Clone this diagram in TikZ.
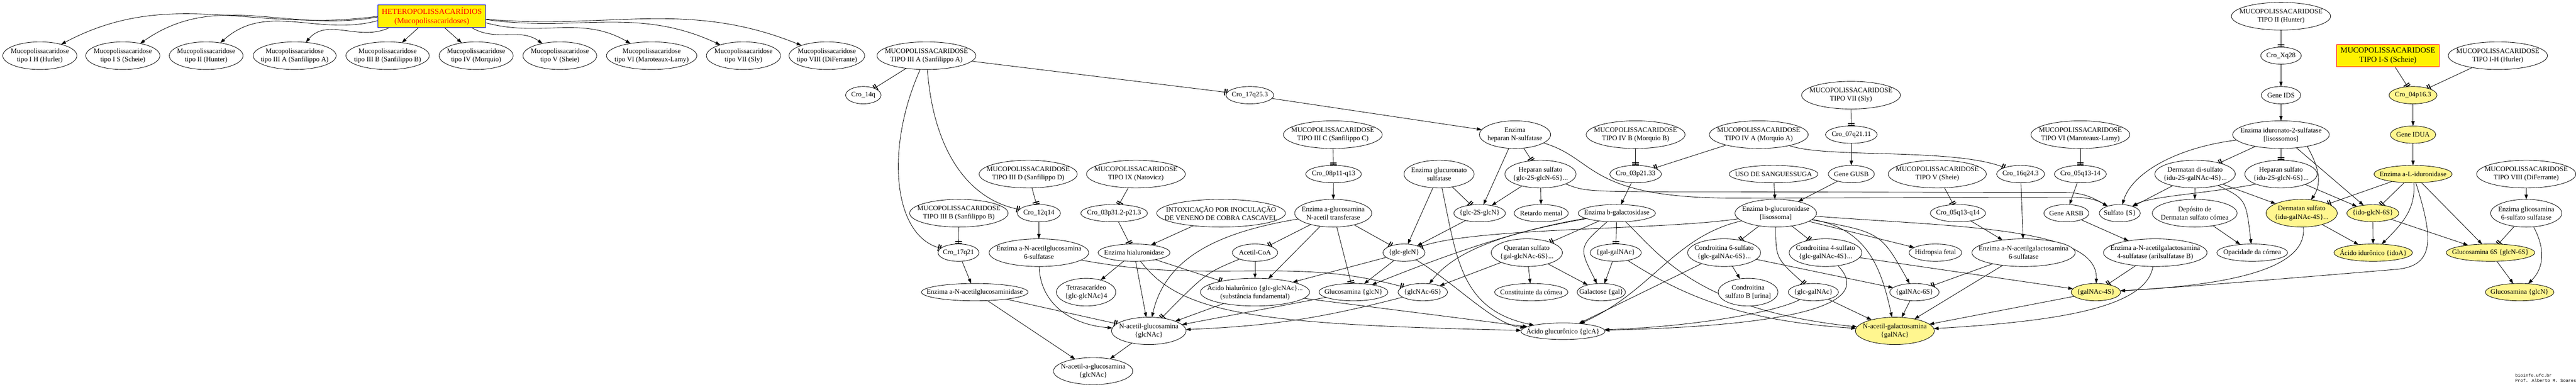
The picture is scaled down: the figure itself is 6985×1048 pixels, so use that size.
\documentclass[tikz,border=0pt]{standalone}
\usepackage{fontspec}
\setmainfont{Liberation Serif}
\newfontfamily\footfont{Liberation Mono}
\usetikzlibrary{shapes.geometric,arrows.meta}
\pgfdeclarelayer{bgzero}
\pgfdeclarelayer{edges}
\pgfsetlayers{bgzero,edges,main}
\definecolor{paleyel}{HTML}{FFF68F}
\newcommand{\nfont}{\fontsize{18.67pt}{22.4pt}\selectfont}
\newcommand{\bfontx}{\fontsize{21.33pt}{25.5pt}\selectfont}
\tikzset{
  ebox/.style={ellipse, draw=black, fill=white, line width=1.2pt, inner sep=0pt, outer sep=0pt},
  etxt/.style={align=center, inner sep=0pt, font=\nfont},
  yel/.style={fill=paleyel},
  arw/.style={line width=1.2pt, -{Triangle[length=13pt,width=9pt]}},
  tee2/.style={line width=1.2pt, -{Bar[width=18pt,line width=2.7pt,sep=2.5pt]Bar[width=18pt,line width=2.7pt]}},
}
\newcommand{\EN}[7]{%
  \node[ebox, minimum width=#4pt, minimum height=#5pt, #6] (#1) at (#2,-#3) {};
  \node[etxt] (#1-t) at (#1.center) {#7};}
\begin{document}
\begin{tikzpicture}[x=1pt,y=1pt]
\useasboundingbox (0,0) rectangle (6985,-1048);
\begin{pgfonlayer}{bgzero}
\fill[white] (0,0) rectangle (6985,-1048);
\end{pgfonlayer}

% ---------- heading and top row ----------
\node[draw=blue, fill=yellow, line width=1.2pt, minimum width=292pt, minimum height=62pt, inner sep=0pt] (het) at (1171,-44) {};
\node[align=center, text=red, font=\bfontx, inner sep=0pt] (het-t) at (het.center) {HETEROPOLISSACARÍDIOS\\(Mucopolissacaridoses)};

\EN{r1}{108}{151}{201}{75}{}{Mucopolissacaridose\\tipo I H (Hurler)}
\EN{r2}{333}{151}{201}{75}{}{Mucopolissacaridose\\tipo I S (Scheie)}
\EN{r3}{559}{151}{200}{75}{}{Mucopolissacaridose\\tipo II (Hunter)}
\EN{r4}{799}{151}{225}{75}{}{Mucopolissacaridose\\tipo III A (Sanfilippo A)}
\EN{r5}{1051}{151}{226}{75}{}{Mucopolissacaridose\\tipo III B (Sanfilippo B)}
\EN{r6}{1291}{151}{201}{75}{}{Mucopolissacaridose\\tipo IV (Morquio)}
\EN{r7}{1518}{151}{200}{75}{}{Mucopolissacaridose\\tipo V (Sheie)}
\EN{r8}{1767}{151}{245}{75}{}{Mucopolissacaridose\\tipo VI (Maroteaux-Lamy)}
\EN{r9}{2016}{151}{201}{75}{}{Mucopolissacaridose\\tipo VII (Sly)}
\EN{r10}{2242}{151}{205}{75}{}{Mucopolissacaridose\\tipo VIII (DiFerrante)}

% ---------- upper rows ----------
\EN{mIIIA}{2512}{151}{268}{75}{}{MUCOPOLISSACARIDOSE\\TIPO III A (Sanfilippo A)}
\EN{c14q}{2341}{258}{96}{47}{}{Cro\_14q}
\EN{c17q253}{3389}{258}{129}{47}{}{Cro\_17q25.3}
\EN{mVII}{5019}{258}{268}{75}{}{MUCOPOLISSACARIDOSE\\TIPO VII (Sly)}
\EN{mII}{6185}{44}{269}{75}{}{MUCOPOLISSACARIDOSE\\TIPO II (Hunter)}
\EN{cXq28}{6185}{151}{110}{46}{}{Cro\_Xq28}
\EN{gIDS}{6185}{258}{107}{47}{}{Gene IDS}
\node[draw=red, fill=yellow, line width=1.2pt, minimum width=278pt, minimum height=61pt, inner sep=0pt] (mIS) at (6475,-151) {};
\node[align=center, font=\bfontx, inner sep=0pt] (mIS-t) at (mIS.center) {MUCOPOLISSACARIDOSE\\TIPO I-S (Scheie)};
\EN{mIH}{6773}{151}{269}{75}{}{MUCOPOLISSACARIDOSE\\TIPO I-H (Hurler)}
\EN{c04p}{6543}{258}{130}{47}{yel}{Cro\_04p16.3}
\EN{gIDUA}{6543}{365}{123}{47}{yel}{Gene IDUA}
\EN{mIIIC}{3614}{365}{268}{75}{}{MUCOPOLISSACARIDOSE\\TIPO III C (Sanfilippo C)}
\EN{ehns}{4108}{365}{193}{75}{}{Enzima\\heparan N-sulfatase}
\EN{mIVB}{4435}{365}{268}{75}{}{MUCOPOLISSACARIDOSE\\TIPO IV B (Morquio B)}
\EN{c07q}{5020}{365}{140}{47}{}{Cro\_07q21.11}
\EN{mIVA}{4769}{365}{268}{75}{}{MUCOPOLISSACARIDOSE\\TIPO IV A (Morquio A)}
\EN{mVI}{5641}{365}{268}{75}{}{MUCOPOLISSACARIDOSE\\TIPO VI (Maroteaux-Lamy)}
\EN{eIDS}{6185}{365}{262}{75}{}{Enzima iduronato-2-sulfatase\\{[lisossomos]}}

% ---------- row 472 ----------
\EN{mIIID}{2788}{472}{266}{75}{}{MUCOPOLISSACARIDOSE\\TIPO III D (Sanfilippo D)}
\EN{mIX}{3080}{472}{268}{75}{}{MUCOPOLISSACARIDOSE\\TIPO IX (Natovicz)}
\EN{c08p}{3616}{472}{151}{47}{}{Cro\_08p11-q13}
\EN{egs}{3902}{472}{190}{75}{}{Enzima glucuronato\\sulfatase}
\EN{hs1}{4177}{472}{193}{75}{}{Heparan sulfato\\\{glc-2S-glcN-6S\}...}
\EN{c03pb}{4435}{472}{140}{47}{}{Cro\_03p21.33}
\EN{uso}{4809}{472}{241}{47}{}{USO DE SANGUESSUGA}
\EN{gGUSB}{5020}{472}{125}{47}{}{Gene GUSB}
\EN{mV}{5253}{472}{266}{75}{}{MUCOPOLISSACARIDOSE\\TIPO V (Sheie)}
\EN{c16q}{5479}{472}{130}{47}{}{Cro\_16q24.3}
\EN{c05qa}{5641}{472}{141}{47}{}{Cro\_05q13-14}
\EN{dds}{5952}{472}{218}{75}{}{Dermatan di-sulfato\\\{idu-2S-galNAc-4S\}...}
\EN{hs2}{6185}{472}{196}{75}{}{Heparan sulfato\\\{idu-2S-glcN-6S\}...}
\EN{eIDUA}{6543}{472}{212}{47}{yel}{Enzima a-L-iduronidase}
\EN{mVIII}{6850}{472}{269}{75}{}{MUCOPOLISSACARIDOSE\\TIPO VIII (DiFerrante)}

% ---------- row 578 ----------
\EN{mIIIB}{2600}{578}{267}{75}{}{MUCOPOLISSACARIDOSE\\TIPO III B (Sanfilippo B)}
\EN{c12q}{2817}{578}{117}{47}{}{Cro\_12q14}
\EN{c03pa}{3021}{578}{181}{47}{}{Cro\_03p31.2-p21.3}
\EN{intox}{3311}{578}{349}{75}{}{INTOXICAÇÃO POR INOCULAÇÃO\\DE VENENO DE COBRA CASCAVEL}
\EN{eagnat}{3615}{578}{209}{75}{}{Enzima a-glucosamina\\N-acetil transferase}
\EN{gtwos}{4012}{578}{140}{47}{}{\{glc-2S-glcN\}}
\EN{retardo}{4179}{578}{147}{47}{}{Retardo mental}
\EN{ebgal}{4384}{578}{210}{47}{}{Enzima b-galactosidase}
\EN{ebglu}{4815}{578}{221}{75}{}{Enzima b-glucuronidase\\{[lisossoma]}}
\EN{c05qb}{5309}{578}{150}{47}{}{Cro\_05q13-q14}
\EN{gARSB}{5603}{578}{122}{47}{}{Gene ARSB}
\EN{sulf}{5748}{578}{111}{47}{}{Sulfato \{S\}}
\EN{dep}{5951}{578}{230}{75}{}{Depósito de\\Dermatan sulfato córnea}
\EN{ds}{6241}{578}{193}{75}{yel}{Dermatan sulfato\\\{idu-galNAc-4S\}...}
\EN{idoglcn}{6434}{578}{141}{46}{yel}{\{ido-glcN-6S\}}
\EN{eglic}{6850}{578}{193}{75}{}{Enzima glicosamina\\6-sulfato sulfatase}

% ---------- row 685 ----------
\EN{c17q21}{2599}{685}{111}{47}{}{Cro\_17q21}
\EN{eagnsix}{2817}{685}{270}{75}{}{Enzima a-N-acetilglucosamina\\6-sulfatase}
\EN{ehial}{3075}{685}{195}{47}{}{Enzima hialuronidase}
\EN{acetil}{3403}{685}{123}{47}{}{Acetil-CoA}
\EN{glcglcn}{3807}{685}{114}{47}{}{\{glc-glcN\}}
\EN{queratan}{4140}{685}{193}{75}{}{Queratan sulfato\\\{gal-glcNAc-6S\}...}
\EN{galgalnac}{4381}{685}{139}{47}{}{\{gal-galNAc\}}
\EN{cssix}{4675}{685}{198}{75}{}{Condroitina 6-sulfato\\\{glc-galNAc-6S\}...}
\EN{csfour}{4950}{685}{197}{75}{}{Condroitina 4-sulfato\\\{glc-galNAc-4S\}...}
\EN{hidro}{5248}{685}{143}{47}{}{Hidropsia fetal}
\EN{eangsix}{5487}{685}{280}{75}{}{Enzima a-N-acetilgalactosamina\\6-sulfatase}
\EN{eangfour}{5844}{685}{281}{75}{}{Enzima a-N-acetilgalactosamina\\4-sulfatase (arilsulfatase B)}
\EN{opac}{6107}{685}{192}{47}{}{Opacidade da córnea}
\EN{idoa}{6435}{685}{213}{47}{yel}{Ácido idurônico \{idoA\}}
\EN{glcnsix}{6753}{685}{240}{47}{yel}{Glucosamina 6S \{glcN-6S\}}

% ---------- row 792 ----------
\EN{eagnd}{2643}{792}{289}{47}{}{Enzima a-N-acetilglucosaminidase}
\EN{tetra}{2945}{792}{161}{75}{}{Tetrasacarídeo\\\{glc-glcNAc\}4}
\EN{acidhial}{3403}{792}{296}{75}{}{Ácido hialurônico \{glc-glcNAc\}...\\(substância fundamental)}
\EN{glcna}{3670}{792}{187}{47}{}{Glucosamina \{glcN\}}
\EN{glcnacsix}{3858}{792}{134}{47}{}{\{glcNAc-6S\}}
\EN{constit}{4152}{792}{199}{47}{}{Constituinte da córnea}
\EN{galac}{4342}{792}{131}{47}{}{Galactose \{gal\}}
\EN{csb}{4740}{792}{162}{75}{}{Condroitina\\sulfato B [urina]}
\EN{glcgalnac}{4917}{792}{136}{47}{}{\{glc-galNAc\}}
\EN{galnacsix}{5191}{792}{134}{47}{}{\{galNAc-6S\}}
\EN{galnacfour}{5683}{792}{134}{47}{yel}{\{galNAc-4S\}}
\EN{glcnb}{6832}{792}{186}{47}{yel}{Glucosamina \{glcN\}}

% ---------- lower rows ----------
\EN{nag}{3115}{897}{202}{74}{}{N-acetil-glucosamina\\\{glcNAc\}}
\EN{aglca}{4238}{898}{228}{45}{}{Ácido glucurônico \{glcA\}}
\EN{nagal}{5138}{897}{214}{74}{yel}{N-acetil-galactosamina\\\{galNAc\}}
\EN{naag}{2964}{1006}{215}{73}{}{N-acetil-a-glucosamina\\\{glcNAc\}}

\node[anchor=north west, align=left, inner sep=0pt, font={\footfont\fontsize{11.8pt}{14pt}\selectfont}] (foot) at (6820,-1013) {bioinfo.ufc.br\\Prof. Alberto M. Soares};

% ---------- edges ----------
\begin{pgfonlayer}{edges}
\draw[arw] (het.west) to[out=188,in=28] (r1);
\draw[arw] ([yshift=-2pt]het.west) to[out=190,in=35] (r2);
\draw[arw] ([yshift=-12pt]het.west) to[out=195,in=42] (r3);
\draw[arw] ([xshift=30pt]het.south west) to[out=205,in=50] (r4);
\draw[arw] ([xshift=-37pt]het.south) -- (r5);
\draw[arw] ([xshift=35pt]het.south) -- (r6);
\draw[arw] ([xshift=109pt]het.south) to[out=-30,in=145] (r7);
\draw[arw] ([yshift=-18pt]het.east) to[out=-15,in=150] (r8);
\draw[arw] ([yshift=-9pt]het.east) to[out=-8,in=155] (r9);
\draw[arw] ([yshift=-8pt]het.east) to[out=-5,in=158] (r10);

\draw[tee2] (mIIIA) -- (c14q);
\draw[tee2] (mIIIA) -- (c17q253);
\draw[tee2] (mIIIA) .. controls (2400,-400) and (2420,-640) .. (c17q21);
\draw[tee2] (mIIIA) .. controls (2530,-400) and (2620,-540) .. (c12q);
\draw[tee2] (mIIID) -- (c12q);
\draw[tee2] (mIX) -- (c03pa);
\draw[tee2] (mIIIB) -- (c17q21);
\draw[arw] (c17q253) -- (ehns);
\draw[tee2] (mIIIC) -- (c08p);
\draw[arw] (c08p) -- (eagnat);
\draw[tee2] (ehns) -- (hs1);
\draw[arw] (ehns) -- (gtwos);
\draw[arw] (ehns) .. controls (4330,-430) and (4300,-537) .. (4700,-537) -- (5620,-535) to[out=0,in=150] (sulf);
\draw[arw] (hs1) .. controls (4300,-520) .. (4660,-520) -- (5600,-522) to[out=0,in=150] (sulf);
\draw[arw] (hs1) -- (gtwos);
\draw[arw] (hs1) -- (retardo);
\draw[arw] (egs) -- (glcglcn);
\draw[arw] (egs) .. controls (3950,-700) and (3960,-840) .. (aglca);
\draw[tee2] (egs) -- (gtwos);
\draw[tee2] (mIVB) -- (c03pb);
\draw[tee2] (mIVA) -- (c03pb);
\draw[tee2] (mIVA) .. controls (4950,-430) and (5300,-400) .. (c16q);
\draw[arw] (c03pb) -- (ebgal);
\draw[tee2] (mVII) -- (c07q);
\draw[arw] (c07q) -- (gGUSB);
\draw[arw] (gGUSB) -- (ebglu);
\draw[arw] (uso) -- (ebglu);
\draw[tee2] (mV) -- (c05qb);
\draw[arw] (c05qb) -- (eangsix);
\draw[arw] (c16q) -- (eangsix);
\draw[tee2] (mVI) -- (c05qa);
\draw[arw] (c05qa) -- (gARSB);
\draw[arw] (gARSB) -- (eangfour);
\draw[tee2] (mII) -- (cXq28);
\draw[arw] (cXq28) -- (gIDS);
\draw[arw] (gIDS) -- (eIDS);
\draw[tee2] (mIS) -- (c04p);
\draw[tee2] (mIH) -- (c04p);
\draw[arw] (c04p) -- (gIDUA);
\draw[arw] (gIDUA) -- (eIDUA);
\draw[tee2] (eIDS) -- (dds);
\draw[tee2] (eIDS) -- (hs2);
\draw[arw] (eIDS) .. controls (5900,-400) and (5780,-470) .. (sulf);
\draw[arw] (eIDS.-24) to[out=-60,in=55] (ds);
\draw[arw] (eIDS) -- (idoglcn);
\draw[arw] (mVIII) -- (eglic);

\draw[arw] (c12q) -- (eagnsix);
\draw[arw] (c17q21) -- (eagnd);
\draw[tee2] (c03pa) -- (ehial);
\draw[arw] (intox) -- (ehial);
\draw[tee2] (eagnat) -- (acetil);
\draw[arw] (eagnat) .. controls (3300,-630) and (3160,-700) .. (nag);
\draw[arw] (eagnat) -- (acidhial);
\draw[tee2] (eagnat) -- (glcglcn);
\draw[tee2] (eagnat) -- (glcna);
\draw[arw] (acetil) -- (acidhial);
\draw[tee2] (acetil) .. controls (3270,-740) .. (nag);
\draw[arw] (ehial) -- (tetra);
\draw[arw] (ehial) -- (nag);
\draw[tee2] (ehial) -- (acidhial);
\draw[arw] (ehial) .. controls (3200,-850) and (3400,-880) .. (aglca);
\draw[arw] (acidhial) -- (nag);
\draw[arw] (acidhial) -- (aglca);
\draw[tee2] (eagnd) -- (nag);
\draw[arw] (eagnd) -- (naag);
\draw[arw] (eagnsix) .. controls (2820,-820) and (2900,-880) .. (nag);
\draw[tee2] (eagnsix) to[out=-10,in=180] (3300,-735) to[out=0,in=165] (glcnacsix);
\draw[arw] (nag) -- (naag);
\draw[arw] (glcna) -- (nag);
\draw[arw] (glcnacsix) to[bend left=6] (nag);
\draw[arw] (gtwos) -- (glcglcn);
\draw[arw] (glcglcn) -- (acidhial);
\draw[arw] (glcglcn) -- (glcna);
\draw[arw] (glcglcn) .. controls (3950,-770) and (4050,-880) .. (aglca);
\draw[tee2] (ebglu) .. controls (4500,-625) and (4000,-615) .. (glcglcn);
\draw[arw] (ebgal) .. controls (4100,-625) and (3900,-700) .. (glcna);
\draw[arw] (ebgal) .. controls (4150,-620) and (3960,-660) .. (glcnacsix);
\draw[arw] (ebglu) .. controls (4540,-640) and (4480,-790) .. (aglca);
\draw[arw] (queratan) -- (glcnacsix);
\draw[arw] (queratan) -- (constit);
\draw[arw] (queratan) -- (galac);
\draw[tee2] (ebgal) -- (queratan);
\draw[arw] (ebgal) .. controls (4280,-670) .. (galac);
\draw[tee2] (ebgal) -- (galgalnac);
\draw[arw] (ebgal) .. controls (4500,-690) and (4600,-840) .. (nagal);
\draw[arw] (galgalnac) -- (galac);
\draw[arw] (galgalnac) .. controls (4560,-800) and (4720,-870) .. (nagal);
\draw[arw] (cssix) -- (aglca);
\draw[arw] (cssix) -- (csb);
\draw[arw] (cssix) -- (galnacsix);
\draw[tee2] (ebglu) -- (cssix);
\draw[tee2] (ebglu) -- (csfour);
\draw[tee2] (ebglu) .. controls (4815,-700) .. (glcgalnac);
\draw[arw] (ebglu) .. controls (5060,-620) and (5100,-720) .. (nagal);
\draw[arw] (ebglu) .. controls (5100,-630) .. (galnacsix);
\draw[arw] (ebglu) -- (hidro);
\draw[arw] (ebglu) .. controls (5300,-615) and (5690,-615) .. (galnacfour);
\draw[arw] (csfour) -- (galnacfour);
\draw[arw] (csfour) .. controls (5060,-800) and (4980,-880) .. (aglca);
\draw[tee2] (eangsix) -- (galnacsix);
\draw[arw] (eangsix) -- (nagal);
\draw[tee2] (eangfour) -- (galnacfour);
\draw[arw] (eangfour) .. controls (5820,-830) and (5600,-870) .. (nagal);
\draw[arw] (galnacfour) -- (nagal);
\draw[arw] (glcgalnac) -- (nagal);
\draw[arw] (glcgalnac) .. controls (4820,-845) and (4600,-885) .. (aglca);
\draw[arw] (galnacsix) -- (nagal);

\draw[arw] (dds) -- (dep);
\draw[arw] (dds) -- (ds);
\draw[arw] (dds) -- (sulf);
\draw[arw] (dds) .. controls (6090,-540) .. (opac);
\draw[arw] (dep) -- (opac);
\draw[arw] (hs2) -- (idoglcn);
\draw[arw] (hs2.202) .. controls (5980,-525) and (5830,-532) .. (sulf);
\draw[tee2] (eIDUA) -- (ds);
\draw[tee2] (eIDUA) -- (idoglcn);
\draw[arw] (eIDUA) to[out=-85,in=45] (idoa);
\draw[arw] (eIDUA) .. controls (6600,-650) and (6600,-720) .. (6500,-730) .. controls (6200,-755) and (5900,-780) .. (galnacfour);
\draw[arw] (eIDUA) -- (glcnsix);
\draw[arw] (ds) -- (idoa);
\draw[arw] (ds) .. controls (6260,-740) and (6000,-775) .. (galnacfour);
\draw[arw] (idoglcn) -- (idoa);
\draw[arw] (idoglcn) -- (glcnsix);
\draw[tee2] (eglic) -- (glcnsix);
\draw[arw] (eglic) .. controls (6905,-680) and (6895,-730) .. (glcnb);
\draw[arw] (glcnsix) -- (glcnb);
\end{pgfonlayer}
\end{tikzpicture}
\end{document}
